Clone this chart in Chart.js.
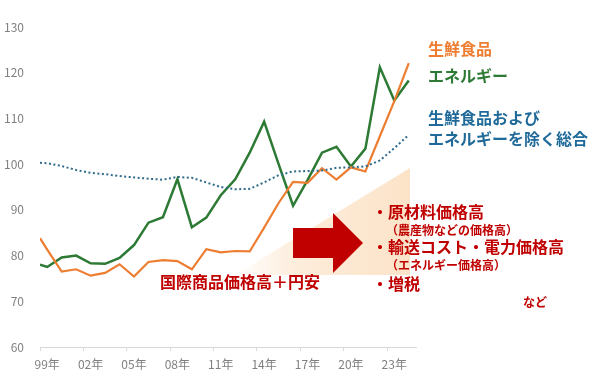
<!DOCTYPE html>
<html>
<head>
<meta charset="utf-8">
<script src="https://cdn.jsdelivr.net/npm/chart.js@4.4.1/dist/chart.umd.min.js"></script>
<style>
  body { margin: 0; background: #fff; }
  #wrap { width: 600px; height: 379px; }
</style>
</head>
<body>
<div id="wrap"><canvas id="myChart" width="600" height="379"></canvas></div>
<script>
// years (first point sits half a year before 99年, as in the original)
const years = [1998.5, 1999, 2000, 2001, 2002, 2003, 2004, 2005, 2006, 2007, 2008, 2009, 2010, 2011,
  2012, 2013, 2014, 2015, 2016, 2017, 2018, 2019, 2020, 2021, 2022, 2023, 2024];

const freshFood = [83.8, 81.3, 76.5, 77.0, 75.6, 76.2, 78.1, 75.4, 78.6, 79.0, 78.8, 77.0, 81.4, 80.7,
  81.0, 80.9, 86.1, 91.5, 96.1, 95.9, 99.1, 96.6, 99.3, 98.4, 106.1, 113.8, 122.1];

const energy = [78.0, 77.5, 79.6, 80.0, 78.3, 78.2, 79.5, 82.3, 87.2, 88.4, 96.7, 86.2, 88.3, 93.2,
  96.7, 102.5, 109.3, 100.0, 90.9, 96.5, 102.5, 103.8, 99.5, 103.4, 121.2, 113.9, 118.3];

const core = [100.3, 100.2, 99.6, 98.7, 98.1, 97.8, 97.4, 97.1, 96.8, 96.6, 97.2, 97.0, 96.0, 95.0,
  94.5, 94.6, 96.0, 97.6, 98.4, 98.5, 98.6, 99.2, 99.3, 99.5, 100.8, 103.5, 106.4];

const xTicks = [1998.5, 2001.5, 2004.5, 2007.5, 2010.5, 2013.5, 2016.5, 2019.5, 2022.5];
const xTickLabels = ['99年', '02年', '05年', '08年', '11年', '14年', '17年', '20年', '23年'];
const yTicks = [60, 70, 80, 90, 100, 110, 120, 130];

const FONT = "'Noto Sans CJK JP', 'Noto Sans', sans-serif";
const RED = '#c00000';

function points(values) {
  return values.map(function (v, i) { return { x: years[i], y: v }; });
}

// labels, arrow and wedge
const notes = {
  id: 'notes',
  beforeDatasetsDraw(chart) {
    const ctx = chart.ctx;
    ctx.save();
    const g = ctx.createLinearGradient(235, 0, 410, 0);
    g.addColorStop(0, 'rgba(252,229,204,0)');
    g.addColorStop(0.35, 'rgba(252,229,204,0.7)');
    g.addColorStop(1, 'rgba(252,227,200,1)');
    ctx.fillStyle = g;
    ctx.beginPath();
    ctx.moveTo(235, 275);
    ctx.lineTo(410, 168);
    ctx.lineTo(410, 275);
    ctx.closePath();
    ctx.fill();
    ctx.restore();
  },
  afterDraw(chart) {
    const ctx = chart.ctx;
    ctx.save();
    // arrow
    ctx.fillStyle = RED;
    ctx.beginPath();
    ctx.moveTo(293, 228);
    ctx.lineTo(333, 228);
    ctx.lineTo(333, 213);
    ctx.lineTo(363, 243);
    ctx.lineTo(333, 273);
    ctx.lineTo(333, 258);
    ctx.lineTo(293, 258);
    ctx.closePath();
    ctx.fill();

    ctx.textBaseline = 'middle';
    ctx.textAlign = 'left';
    function txt(s, x, y, size, color) {
      ctx.font = 'bold ' + size + 'px ' + FONT;
      ctx.fillStyle = color;
      ctx.fillText(s, x, y);
    }
    txt('生鮮食品', 428, 49, 16, '#ed7d31');
    txt('エネルギー', 428, 76, 16, '#2d7a34');
    txt('生鮮食品および', 428, 118, 16, '#1f6a99');
    txt('エネルギーを除く総合', 428, 139, 16, '#1f6a99');

    txt('国際商品価格高＋円安', 160, 282, 16, RED);
    txt('・原材料価格高', 372, 212, 16, RED);
    txt('（農産物などの価格高）', 386, 230, 12, RED);
    txt('・輸送コスト・電力価格高', 372, 247, 16, RED);
    txt('（エネルギー価格高）', 386, 265, 12, RED);
    txt('・増税', 372, 284, 16, RED);
    txt('など', 523, 302, 12, RED);
    ctx.restore();
  }
};

const data = {
  datasets: [{
    label: '生鮮食品およびエネルギーを除く総合',
    data: points(core),
    borderColor: '#2f6b8a',
    borderWidth: 2,
    borderDash: [2, 2.5],
    pointRadius: 0,
    tension: 0
  }, {
    label: '生鮮食品',
    data: points(freshFood),
    borderColor: '#ed7d31',
    borderWidth: 2.2,
    pointRadius: 0,
    tension: 0
  }, {
    label: 'エネルギー',
    data: points(energy),
    borderColor: '#2d7a34',
    borderWidth: 2.5,
    pointRadius: 0,
    tension: 0
  }]
};

const config = {
  type: 'line',
  data,
  options: {
    responsive: false,
    animation: false,
    layout: { padding: { top: 27, right: 184, left: 0, bottom: 0 } },
    plugins: { legend: { display: false }, tooltip: { enabled: false } },
    scales: {
      x: {
        type: 'linear',
        min: 1998.5,
        max: 2024.5,
        afterBuildTicks: function (axis) {
          axis.ticks = xTicks.map(function (v) { return { value: v }; });
        },
        afterFit: function (axis) { axis.height = 32; },
        grid: { drawOnChartArea: false, drawTicks: true, tickLength: 4, color: '#d9d9d9' },
        border: { display: true, color: '#d9d9d9' },
        ticks: {
          autoSkip: false,
          maxRotation: 0,
          labelOffset: 7.2,
          padding: 6,
          color: '#808080',
          font: { size: 12, family: FONT },
          callback: function (value) {
            const i = xTicks.indexOf(value);
            return i >= 0 ? xTickLabels[i] : '';
          }
        }
      },
      y: {
        min: 60,
        max: 130,
        afterBuildTicks: function (axis) {
          axis.ticks = yTicks.map(function (v) { return { value: v }; });
        },
        afterFit: function (axis) { axis.width = 40; },
        grid: { display: false, drawTicks: false },
        border: { display: false },
        ticks: {
          padding: 16,
          color: '#808080',
          font: { size: 12, family: FONT }
        }
      }
    }
  },
  plugins: [notes]
};

const myChart = new Chart(
  document.getElementById('myChart'),
  config
);
</script>
</body>
</html>
